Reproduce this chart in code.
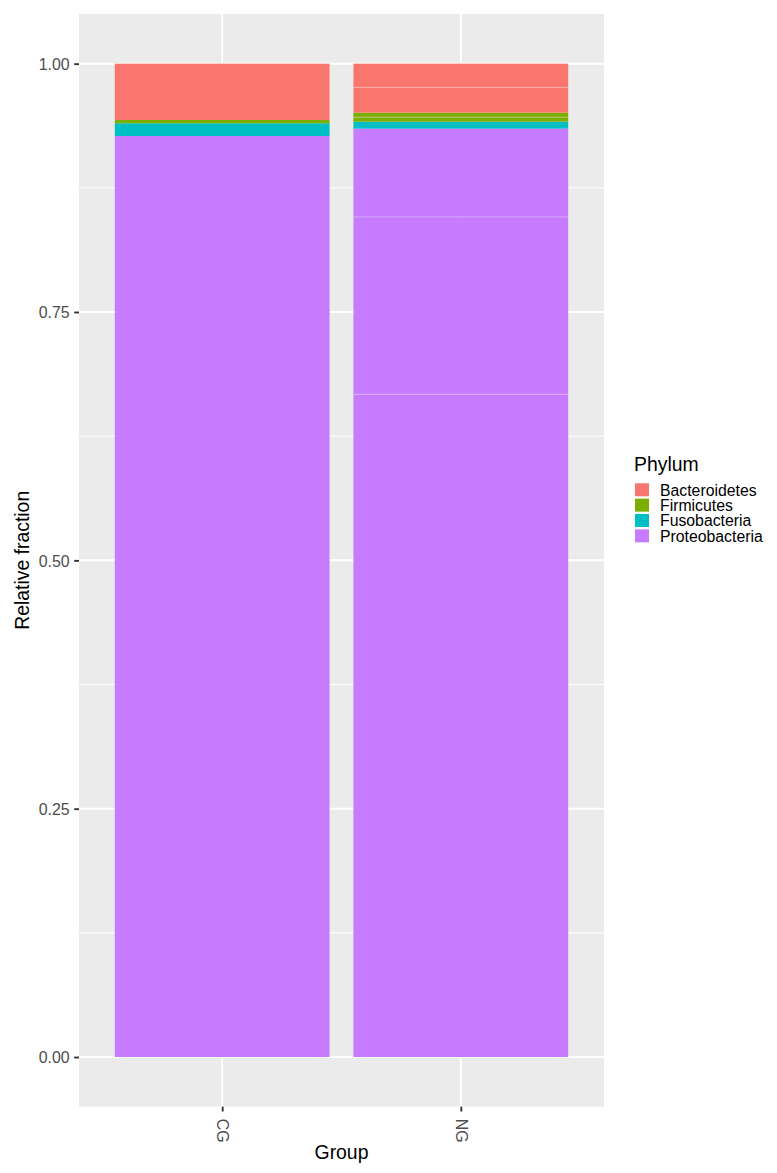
<!DOCTYPE html>
<html>
  <head>
    <meta charset="utf-8" />
    <script src="https://d3js.org/d3.v7.min.js"></script>
    <style>
      body {
        margin: 0px;
        background: #ffffff;
        font-family: 'Liberation Sans', Arial, sans-serif;
      }
      .domain {
        display: none;
      }
      .tick line {
        stroke: #333333;
      }
      .tick text {
        fill: #4d4d4d;
        font-size: 15.9px;
      }
      .axis-label {
        fill: #000000;
        font-size: 19.4px;
      }
    </style>
  </head>
  <body>
    <script>
      // data
      const groups = ['CG', 'NG'];
      const phyla = ['Bacteroidetes', 'Firmicutes', 'Fusobacteria', 'Proteobacteria'];
      const colors = ['#F8766D', '#7CAE00', '#00BFC4', '#C77CFF'];
      // segments per phylum, listed top to bottom
      const cgFractions = [[0.0567], [0.0033], [0.0128], [0.9272]];
      const ngFractions = [
        [0.0238, 0.0255],
        [0.0046, 0.0045],
        [0.0070],
        [0.0889, 0.1785, 0.6672],
      ];
      const yTicks = [0, 0.25, 0.5, 0.75, 1];
      const yMinorTicks = [0.125, 0.375, 0.625, 0.875];

      const width = 777;
      const height = 1173;
      const panel = { left: 79, right: 604, top: 14, bottom: 1106.7 };

      const svg = d3
        .select('body')
        .append('svg')
        .attr('width', width)
        .attr('height', height);

      // ggplot discrete axis: centres at 0.6 and 1.6 units of 2.2, bar width 0.9
      const xScale = d3
        .scalePoint()
        .domain(groups)
        .range([
          panel.left + (0.6 / 2.2) * (panel.right - panel.left),
          panel.left + (1.6 / 2.2) * (panel.right - panel.left),
        ]);
      const xCenter = (g) => xScale(g);
      const barWidth = 0.9 * (xScale(groups[1]) - xScale(groups[0]));

      const yScale = d3
        .scaleLinear()
        .domain([-0.05, 1.05])
        .range([panel.bottom, panel.top]);

      // panel background
      svg
        .append('rect')
        .attr('x', panel.left)
        .attr('y', panel.top)
        .attr('width', panel.right - panel.left)
        .attr('height', panel.bottom - panel.top)
        .attr('fill', '#EBEBEB');

      const gridG = svg.append('g');
      gridG
        .selectAll('.minor')
        .data(yMinorTicks)
        .enter()
        .append('line')
        .attr('x1', panel.left)
        .attr('x2', panel.right)
        .attr('y1', yScale)
        .attr('y2', yScale)
        .attr('stroke', '#ffffff')
        .attr('stroke-width', 1);
      gridG
        .selectAll('.major')
        .data(yTicks)
        .enter()
        .append('line')
        .attr('x1', panel.left)
        .attr('x2', panel.right)
        .attr('y1', yScale)
        .attr('y2', yScale)
        .attr('stroke', '#ffffff')
        .attr('stroke-width', 2);
      gridG
        .selectAll('.vmajor')
        .data(groups)
        .enter()
        .append('line')
        .attr('x1', xCenter)
        .attr('x2', xCenter)
        .attr('y1', panel.top)
        .attr('y2', panel.bottom)
        .attr('stroke', '#ffffff')
        .attr('stroke-width', 2);

      // build stacked segments, bottom up
      const segments = [];
      const seams = [];
      [cgFractions, ngFractions].forEach((fractions, gi) => {
        let acc = 0;
        for (let p = phyla.length - 1; p >= 0; p--) {
          const segs = fractions[p].slice().reverse();
          segs.forEach((v, si) => {
            if (si > 0) seams.push({ group: groups[gi], y: acc });
            segments.push({ group: groups[gi], phylum: p, y0: acc, y1: acc + v });
            acc += v;
          });
        }
      });

      const barsG = svg.append('g');
      barsG
        .selectAll('rect')
        .data(segments)
        .enter()
        .append('rect')
        .attr('x', (d) => xCenter(d.group) - barWidth / 2)
        .attr('width', barWidth)
        .attr('y', (d) => yScale(d.y1))
        .attr('height', (d) => yScale(d.y0) - yScale(d.y1))
        .attr('fill', (d) => colors[d.phylum]);
      barsG
        .selectAll('line')
        .data(seams)
        .enter()
        .append('line')
        .attr('x1', (d) => xCenter(d.group) - barWidth / 2)
        .attr('x2', (d) => xCenter(d.group) + barWidth / 2)
        .attr('y1', (d) => yScale(d.y))
        .attr('y2', (d) => yScale(d.y))
        .attr('stroke', 'rgba(255,255,255,0.3)')
        .attr('stroke-width', 1);

      // y axis
      const yAxis = d3
        .axisLeft(yScale)
        .tickValues(yTicks)
        .tickFormat(d3.format('.2f'))
        .tickSize(4.8)
        .tickPadding(4.5);
      const yAxisG = svg
        .append('g')
        .attr('transform', `translate(${panel.left},0)`)
        .call(yAxis);
      yAxisG.selectAll('.tick line').attr('stroke-width', 1.9);
      yAxisG.selectAll('.tick text').attr('dy', '0.36em');

      // x axis
      const xAxis = d3
        .axisBottom(xScale)
        .tickSize(4.8)
        .tickPadding(0);
      const xAxisG = svg
        .append('g')
        .attr('transform', `translate(0,${panel.bottom})`)
        .call(xAxis);
      xAxisG.selectAll('.tick line').attr('stroke-width', 1.9);
      xAxisG
        .selectAll('.tick text')
        .attr('y', 0)
        .attr('transform', 'translate(0,12) rotate(90)')
        .attr('dy', '0.35em')
        .style('text-anchor', 'start');

      svg
        .append('text')
        .attr('class', 'axis-label')
        .attr('x', (panel.left + panel.right) / 2)
        .attr('y', 1159)
        .style('text-anchor', 'middle')
        .text('Group');

      svg
        .append('text')
        .attr('class', 'axis-label')
        .attr('transform', `translate(28.5,${(panel.top + panel.bottom) / 2}) rotate(-90)`)
        .style('text-anchor', 'middle')
        .text('Relative fraction');

      // legend
      const legendG = svg.append('g').attr('transform', 'translate(634,0)');
      legendG
        .append('text')
        .attr('x', 0)
        .attr('y', 471)
        .attr('font-size', '19.4px')
        .attr('fill', '#000000')
        .text('Phylum');
      const items = legendG
        .selectAll('.item')
        .data(phyla)
        .enter()
        .append('g')
        .attr('transform', (d, i) => `translate(0,${483.3 + i * 15.35})`);
      items
        .append('rect')
        .attr('x', 1)
        .attr('width', 14)
        .attr('height', 13)
        .attr('fill', (d, i) => colors[i]);
      items
        .append('text')
        .attr('x', 26)
        .attr('y', 12.3)
        .attr('font-size', '15.8px')
        .attr('fill', '#000000')
        .text((d) => d);
    </script>
  </body>
</html>
